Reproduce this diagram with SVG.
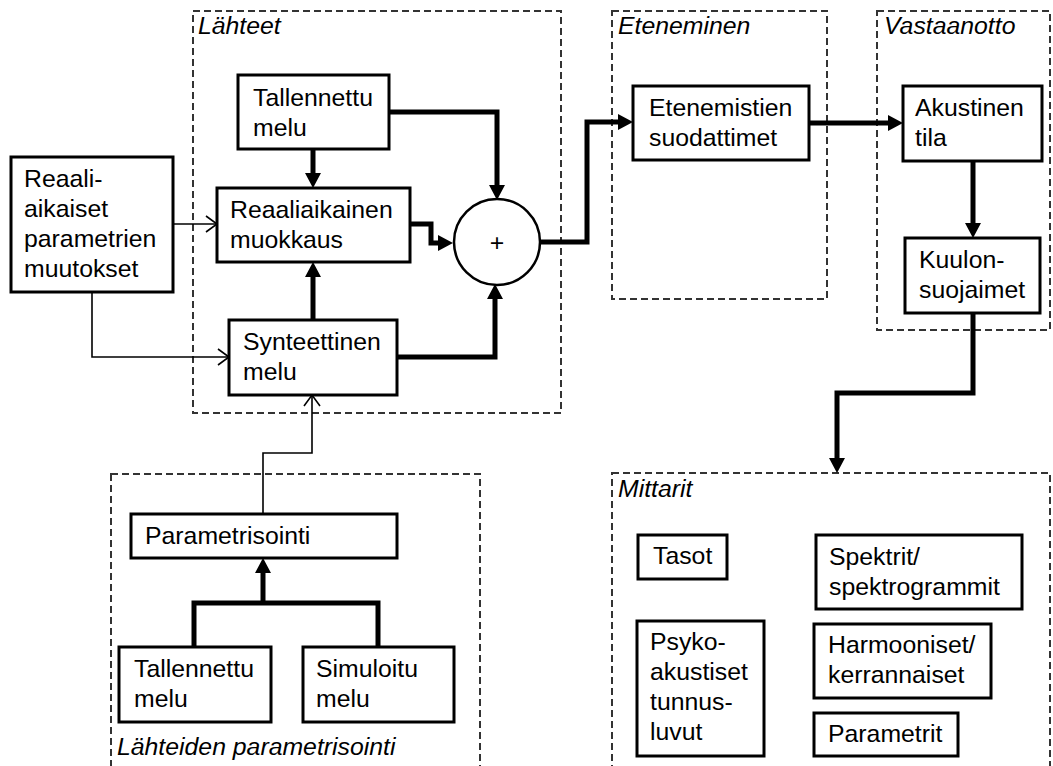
<svg xmlns="http://www.w3.org/2000/svg" width="1053" height="766" viewBox="0 0 1053 766">
<style>
text{font-family:"Liberation Sans",Arial,sans-serif;font-size:24.8px;fill:#000}
.lbl{font-style:italic}
.box{fill:#fff;stroke:#000;stroke-width:3}
.grp{fill:none;stroke:#333;stroke-width:2;stroke-dasharray:7,4}
.thick{fill:none;stroke:#000;stroke-width:5;stroke-linejoin:miter}
.thin{fill:none;stroke:#000;stroke-width:1.6}
</style>
<defs>
<marker id="ah" markerUnits="userSpaceOnUse" markerWidth="20" markerHeight="20" refX="0" refY="8" orient="auto" overflow="visible">
<path d="M0,0 L15,8 L0,16 Z" fill="#000"/>
</marker>
<marker id="ch" markerUnits="userSpaceOnUse" markerWidth="14" markerHeight="20" refX="12" refY="8" orient="auto" overflow="visible">
<path d="M1,0 L12,8 L1,16" fill="none" stroke="#000" stroke-width="1.6"/>
</marker>
</defs>

<g id="groups">
<rect class="grp" x="193" y="11" width="368" height="402"/>
<text class="lbl" x="198" y="34">Lähteet</text>
<rect class="grp" x="612" y="11" width="215" height="288"/>
<text class="lbl" x="618" y="34">Eteneminen</text>
<rect class="grp" x="877" y="11" width="173" height="319"/>
<text class="lbl" x="884" y="34">Vastaanotto</text>
<rect class="grp" x="612" y="473" width="438" height="300"/>
<text class="lbl" x="618" y="497">Mittarit</text>
<rect class="grp" x="111" y="474" width="369" height="300"/>
<text class="lbl" x="117" y="755">Lähteiden parametrisointi</text>
</g>

<g id="connectors">
<path class="thick" d="M313,149 V173" marker-end="url(#ah)"/>
<path class="thin" d="M173,224 H217" marker-end="url(#ch)"/>
<path class="thin" d="M92,292 V357 H229" marker-end="url(#ch)"/>
<path class="thick" d="M313,320 V277" marker-end="url(#ah)"/>
<path class="thick" d="M397,357 H495 V299" marker-end="url(#ah)"/>
<path class="thick" d="M389,112 H497 V185" marker-end="url(#ah)"/>
<path class="thick" d="M410,224 H431 V243 H438" marker-end="url(#ah)"/>
<path class="thick" d="M540,242 H587 V122 H618" marker-end="url(#ah)"/>
<path class="thick" d="M809,123 H888" marker-end="url(#ah)"/>
<path class="thick" d="M973,161 V223" marker-end="url(#ah)"/>
<path class="thick" d="M973,313 V393 H837 V458" marker-end="url(#ah)"/>
<path class="thin" d="M263,514 V453 H312 V395" marker-end="url(#ch)"/>
<path class="thick" d="M194,647 V603 H378 V647"/>
<path class="thick" d="M263,603 V573" marker-end="url(#ah)"/>
</g>

<g id="n-reaali">
<rect class="box" x="11" y="157" width="162" height="135"/>
<text x="24" y="187">Reaali-</text>
<text x="24" y="217">aikaiset</text>
<text x="24" y="247">parametrien</text>
<text x="24" y="277">muutokset</text>
</g>
<g id="n-tallennettu1">
<rect class="box" x="238" y="75" width="151" height="74"/>
<text x="253" y="106">Tallennettu</text>
<text x="253" y="136">melu</text>
</g>
<g id="n-muokkaus">
<rect class="box" x="217" y="188" width="193" height="74"/>
<text x="230" y="218">Reaaliaikainen</text>
<text x="230" y="248">muokkaus</text>
</g>
<g id="n-synteettinen">
<rect class="box" x="229" y="320" width="168" height="75"/>
<text x="243" y="350">Synteettinen</text>
<text x="243" y="380">melu</text>
</g>
<g id="n-summa">
<circle cx="497" cy="242" r="43" fill="#fff" stroke="#000" stroke-width="2.5"/>
<text x="497" y="251" text-anchor="middle">+</text>
</g>
<g id="n-etenemistien">
<rect class="box" x="633" y="86" width="176" height="74"/>
<text x="649" y="116">Etenemistien</text>
<text x="649" y="146">suodattimet</text>
</g>
<g id="n-akustinen">
<rect class="box" x="903" y="86" width="139" height="75"/>
<text x="915" y="116">Akustinen</text>
<text x="915" y="146">tila</text>
</g>
<g id="n-kuulon">
<rect class="box" x="905" y="238" width="135" height="75"/>
<text x="919" y="268">Kuulon-</text>
<text x="919" y="298">suojaimet</text>
</g>
<g id="n-parametrisointi">
<rect class="box" x="131" y="514" width="266" height="44"/>
<text x="145" y="544">Parametrisointi</text>
</g>
<g id="n-tallennettu2">
<rect class="box" x="119" y="647" width="152" height="75"/>
<text x="134" y="677">Tallennettu</text>
<text x="134" y="707">melu</text>
</g>
<g id="n-simuloitu">
<rect class="box" x="303" y="647" width="151" height="75"/>
<text x="316" y="677">Simuloitu</text>
<text x="316" y="707">melu</text>
</g>
<g id="n-tasot">
<rect class="box" x="638" y="535" width="89" height="44"/>
<text x="653" y="564">Tasot</text>
</g>
<g id="n-spektrit">
<rect class="box" x="816" y="535" width="206" height="74"/>
<text x="829" y="565">Spektrit/</text>
<text x="829" y="595">spektrogrammit</text>
</g>
<g id="n-psyko">
<rect class="box" x="637" y="621" width="127" height="135"/>
<text x="650" y="650">Psyko-</text>
<text x="650" y="680">akustiset</text>
<text x="650" y="710">tunnus-</text>
<text x="650" y="740">luvut</text>
</g>
<g id="n-harmooniset">
<rect class="box" x="814" y="624" width="177" height="74"/>
<text x="828" y="653">Harmooniset/</text>
<text x="828" y="683">kerrannaiset</text>
</g>
<g id="n-parametrit">
<rect class="box" x="814" y="713" width="144" height="43"/>
<text x="828" y="742">Parametrit</text>
</g>
</svg>
